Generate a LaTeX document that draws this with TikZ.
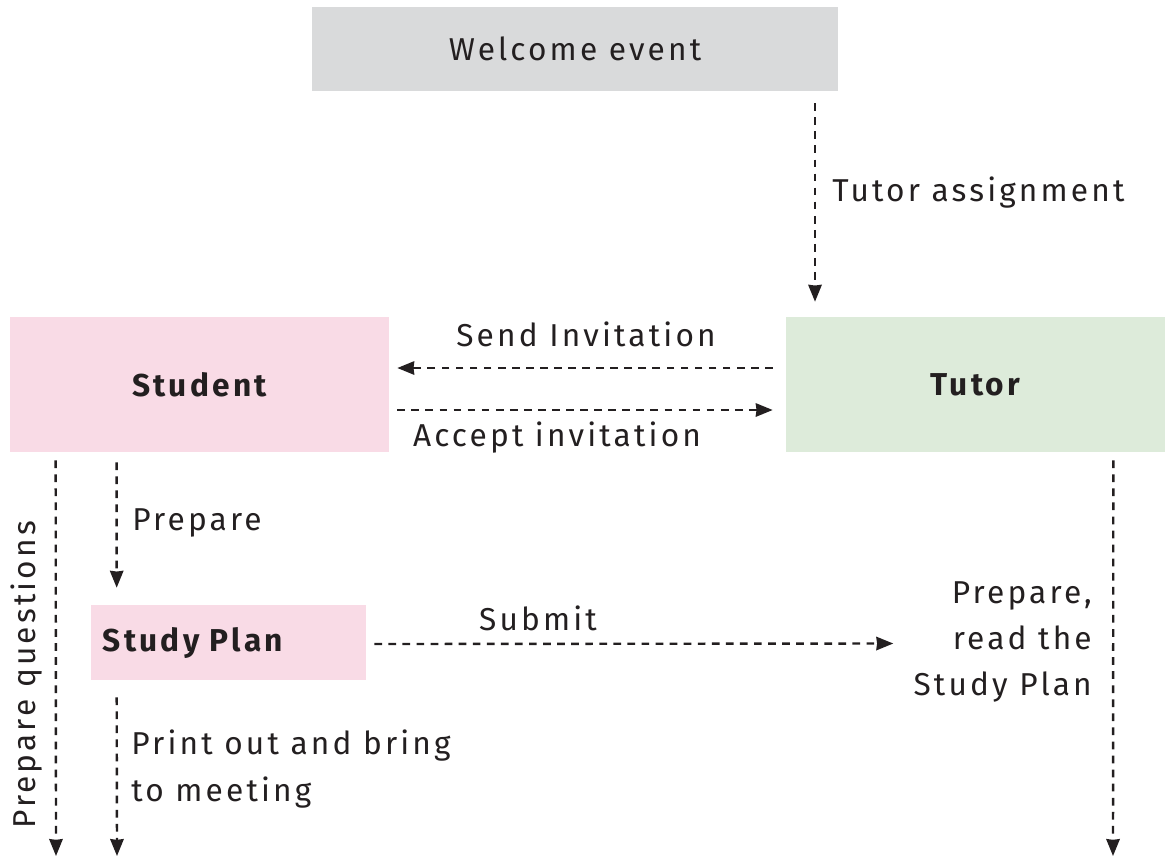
\documentclass[tikz,border=0pt]{standalone}
\usepackage{fontspec}
\setmainfont{Fira Sans}[LetterSpace=10]
\usetikzlibrary{arrows.meta,calc}
\definecolor{boxgray}{HTML}{D9DADB}
\definecolor{boxpink}{HTML}{F9DBE6}
\definecolor{boxgreen}{HTML}{DDEBDA}
\definecolor{ink}{HTML}{231F20}
\tikzset{
  box/.style={fill=#1, draw=none, inner sep=0pt, text=ink, font=\fontsize{22.5}{33}\selectfont},
  lbl/.style={text=ink, inner sep=0pt, font=\fontsize{22.5}{33}\selectfont},
  flow/.style={->, draw=ink, line width=1.7pt, dash pattern=on 5.5pt off 4.5pt}
}
\begin{document}
\begin{tikzpicture}[x=0.025cm, y=-0.025cm, >={Stealth[length=12pt,width=9.5pt,inset=0.5pt]}, line join=round]
		\useasboundingbox (0,0) rectangle (1168,856);
		% Kästen
		\node[box=boxgray, minimum width=13.15cm, minimum height=2.1cm] (welcome) at (575,49) {Welcome event};
		\node[box=boxpink, minimum width=9.475cm, minimum height=3.375cm] (student) at (199.5,384.5) {\bfseries Student};
		\node[box=boxgreen, minimum width=9.475cm, minimum height=3.375cm] (tutor) at (975.5,384.5) {\bfseries Tutor};
		\node[box=boxpink, text width=6.275cm, inner xsep=0.3cm, minimum height=1.875cm, align=left] (plan) at (228.5,642.5) {\bfseries Study Plan};
		% Beschriftungen
		\node[lbl, anchor=west] (assign) at (832,193) {Tutor assignment};
		\node[lbl] (send) at (586,334) {Send Invitation};
		\node[lbl] (accept) at (557,438) {Accept invitation};
		\node[lbl, rotate=90] (questions) at (27,675) {Prepare questions};
		\node[lbl, anchor=west] (prep) at (132,523) {Prepare};
		\node[lbl] (submit) at (538,618) {Submit};
		\node[lbl, anchor=west, align=left] (print) at (131,769) {Print out and bring\\to meeting};
		\node[lbl, anchor=east, align=right] (read) at (1092,642) {Prepare,\\read the\\Study Plan};
		% Enden unten
		\coordinate (endq) at (56,856);
		\coordinate (endp) at (117,856);
		\coordinate (endt) at (1113,856);
		% Pfeile
		\draw[flow] ($(welcome.south)+(240,12)$) -- ($(tutor.north)+(-160.5,-15)$);
		\draw[flow] ($(tutor.west)+(-13,-16.5)$) -- ($(student.east)+(8,-16.5)$);
		\draw[flow] ($(student.east)+(8,25.5)$) -- ($(tutor.west)+(-13,25.5)$);
		\draw[flow] ($(student.south west)+(46,8)$) -- (endq);
		\draw[flow] ($(student.south west)+(107,10)$) -- ($(plan.north west)+(26,-17)$);
		\draw[flow] ($(plan.east)+(8,1.5)$) -- ($(read.west)+(-20,1.5)$);
		\draw[flow] ($(plan.south west)+(26,17)$) -- (endp);
		\draw[flow] ($(tutor.south east)+(-52,8)$) -- (endt);
\end{tikzpicture}
\end{document}
